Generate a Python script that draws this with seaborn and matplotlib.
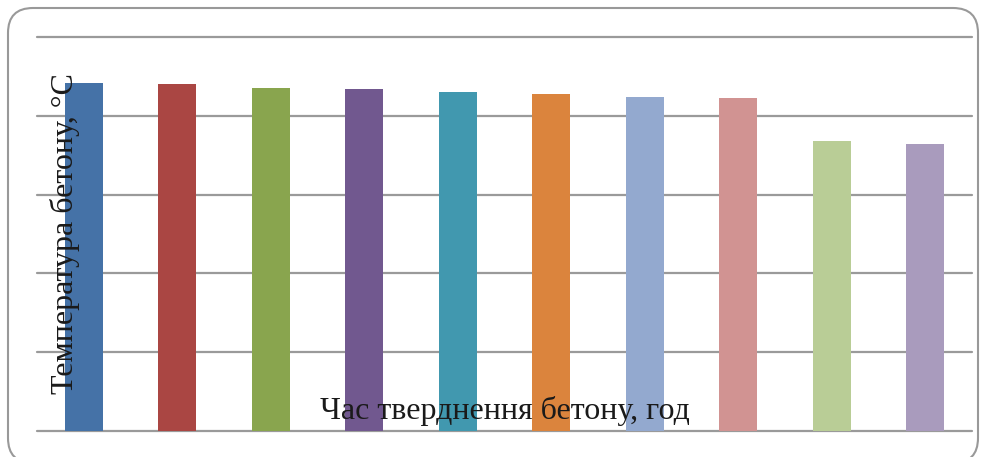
import matplotlib
matplotlib.use("Agg")
import matplotlib.pyplot as plt
import seaborn as sns
import pandas as pd
from matplotlib.patches import FancyBboxPatch

categories = ["1", "2", "3", "4", "5", "6", "7", "8", "9", "10"]
values = [44.2, 44.0, 43.5, 43.4, 43.0, 42.8, 42.4, 42.3, 36.8, 36.4]
colors = ["#4572A7", "#AA4643", "#89A54E", "#71588F", "#4198AF",
          "#DB843D", "#93A9CF", "#D19392", "#B9CD96", "#A99BBD"]
y_label = "Температура бетону, °С"
x_label = "Час тверднення бетону, год"

sns.set_style("white")
plt.rcParams['font.family'] = ['Liberation Serif', 'DejaVu Serif']

W, H = 987, 457
fig = plt.figure(figsize=(W / 100, H / 100), dpi=100)
ax = fig.add_axes([37 / W, 1 - 431 / H, (972 - 37) / W, (431 - 37) / H])

df = pd.DataFrame({"cat": categories, "val": values})
sns.barplot(data=df, x="cat", y="val", hue="cat", palette=colors,
            legend=False, width=0.41, ax=ax, zorder=3, saturation=1,
            linewidth=0, edgecolor="none")

ax.set_xlim(-0.5, 9.5)
ax.set_ylim(0, 50)
ax.set_yticks([0, 10, 20, 30, 40, 50])
ax.yaxis.grid(True, color="#9a9a9a", linewidth=1.6)
for gl in ax.get_ygridlines():
    gl.set_clip_on(False)
ax.set_axisbelow(True)
for s in ax.spines.values():
    s.set_visible(False)
ax.tick_params(left=False, bottom=False, labelleft=False, labelbottom=False)
ax.set_xlabel("")
ax.set_ylabel("")
ax.patch.set_alpha(0)

# rounded border (coordinates in inches), bottom edge cut off by the image
border = FancyBboxPatch((8 / 100, -6 / 100), (978 - 8) / 100, (463 - 8) / 100,
                        boxstyle="round,pad=0,rounding_size=0.25",
                        transform=fig.dpi_scale_trans, fill=False,
                        edgecolor="#999999", linewidth=1.5)
fig.patches.append(border)

fig.text(65 / W, 1 - 234 / H, y_label, rotation=90, ha="center", va="center",
         fontsize=23, color="#1a1a1a", zorder=10)
fig.text(505 / W, 1 - 411 / H, x_label, ha="center", va="center",
         fontsize=23, color="#1a1a1a", zorder=10)

fig.savefig("out.png", dpi=100)
